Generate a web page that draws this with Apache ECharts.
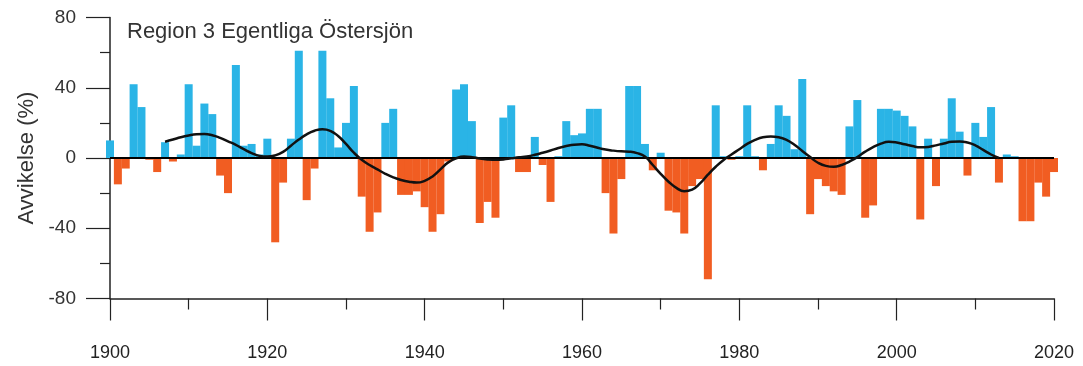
<!DOCTYPE html>
<html>
<head>
<meta charset="utf-8">
<script src="https://cdn.jsdelivr.net/npm/echarts@6/dist/echarts.min.js"></script>
<style>
html,body{margin:0;padding:0;background:#fff;}
#c{width:1083px;height:366px;}
</style>
</head>
<body>
<div id="c"></div>
<script>
const title = "Region 3 Egentliga Östersjön";
const yAxisName = "Avvikelse (%)";
const startYear = 1900;
// annual deviation (%) 1900..2020
const values = [
  10, -15, -6, 42, 29, -1, -8, 9, -2, 2,
  42, 7, 31, 25, -10, -20, 53, 7, 8, 2,
  11, -48, -14, 11, 61, -24, -6, 61, 34, 6,
  20, 41, -22, -42, -31, 20, 28, -21, -21, -19,
  -28, -42, -32, -2, 39, 42, 21, -37, -25, -34,
  23, 30, -8, -8, 12, -4, -25, 1, 21, 13,
  14, 28, 28, -20, -43, -12, 41, 41, 8, -7,
  3, -30, -31, -43, -16, -12, -69, 30, 1, -1,
  1, 30, 1, -7, 8, 30, 24, 5, 45, -32,
  -12, -16, -19, -21, 18, 33, -34, -27, 28, 28,
  27, 24, 18, -35, 11, -16, 11, 34, 15, -10,
  20, 12, 29, -14, 2, 1, -36, -36, -14, -22,
  -8
];
const years = values.map((_, i) => startYear + i);
// smoothed curve 1907..2013
const curveStart = 1907;
const curveValues = [
  9.3, 10.5, 11.8, 12.8, 13.5, 13.7, 13, 11.5, 9.5, 7.5,
  5, 2.8, 1.2, 0.8, 1.5, 3.5, 7, 10.5, 13.5, 15.5,
  16.4, 15.5, 12.5, 8, 3, -1, -4, -6.5, -9, -11,
  -12.5, -13.5, -14, -13, -10.5, -6.5, -2.5, -0.2, 0.8, 0.5,
  -0.3, -0.8, -1, -0.8, -0.2, 0.4, 0.9, 1.8, 3, 4.3,
  5.7, 6.8, 7.6, 7.8, 7, 5.8, 4.8, 4.2, 3.8, 3.6,
  2.8, 0.8, -4, -9, -13.5, -17, -18.9, -18, -14.5, -9.5,
  -5, -1.1, 2, 5, 8, 10.3, 11.8, 12.2, 11.8, 10.3,
  7.5, 4, 0.5, -2.7, -4.5, -5, -4, -2, 0.5, 3.6,
  6.2, 8.2, 9.2, 8.8, 7.8, 6.8, 6.1, 6.3, 7.2, 8.3,
  9.2, 9.4, 8.8, 7.2, 4.6, 2, 0
];
const curveYears = curveValues.map((_, i) => curveStart + i);
const xTicks = [1900, 1920, 1940, 1960, 1980, 2000, 2020];
const yTicks = [-80, -40, 0, 40, 80];

const BLUE = '#2ab4e6';
const ORANGE = '#f15d22';
const FONT = 'Liberation Sans, Arial, sans-serif';

const chart = echarts.init(document.getElementById('c'), null, {renderer: 'canvas'});
chart.setOption({
  animation: false,
  backgroundColor: '#fff',
  title: {
    text: title, left: 127, top: 21, padding: 0,
    textStyle: {fontFamily: FONT, fontSize: 22, fontWeight: 'normal', color: '#333'}
  },
  grid: {left: 110, right: 29, top: 17.5, height: 281},
  xAxis: {
    type: 'value', min: 1900, max: 2020, interval: 20,
    axisLine: {show: true, onZero: false, lineStyle: {color: '#222', width: 1.5}},
    axisTick: {show: true, length: 22, lineStyle: {color: '#222', width: 1.2}},
    minorTick: {show: true, splitNumber: 2, length: 11, lineStyle: {color: '#222', width: 1.2}},
    splitLine: {show: false},
    axisLabel: {margin: 46, fontFamily: FONT, fontSize: 18, color: '#222',
      formatter: v => xTicks.includes(v) ? String(v) : ''}
  },
  yAxis: {
    type: 'value', min: -80, max: 80, interval: 40,
    name: yAxisName, nameLocation: 'middle', nameGap: 72, nameRotate: 90,
    nameTextStyle: {fontFamily: FONT, fontSize: 22, color: '#333'},
    axisLine: {show: true, lineStyle: {color: '#222', width: 1.5}},
    axisTick: {show: true, length: 24, lineStyle: {color: '#222', width: 1.2}},
    minorTick: {show: true, splitNumber: 2, length: 10, lineStyle: {color: '#222', width: 1.2}},
    splitLine: {show: false},
    axisLabel: {margin: 34, fontFamily: FONT, fontSize: 19, color: '#333',
      formatter: v => yTicks.includes(v) ? String(v) : ''}
  },
  series: [
    {
      type: 'bar', clip: false, barWidth: 8,
      data: years.map((y, i) => ({
        value: [y, values[i]],
        itemStyle: {color: values[i] >= 0 ? BLUE : ORANGE}
      })),
      markLine: {
        silent: true, symbol: 'none', label: {show: false},
        lineStyle: {color: '#000', width: 2, type: 'solid'},
        data: [{yAxis: 0}]
      },
      z: 2
    },
    {
      type: 'line', smooth: 0.5, symbol: 'none',
      data: curveYears.map((y, i) => [y, curveValues[i]]),
      lineStyle: {color: '#111', width: 2.5},
      z: 5
    }
  ]
});
</script>
</body>
</html>
